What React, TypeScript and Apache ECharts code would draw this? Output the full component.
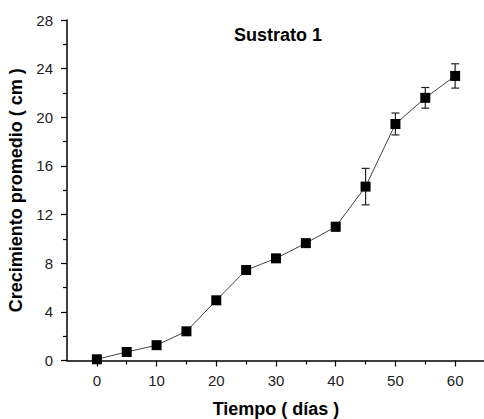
import React, { useEffect, useRef } from "react";
import * as echarts from "echarts";

const days = [0, 5, 10, 15, 20, 25, 30, 35, 40, 45, 50, 55, 60];
const growth = [0.1, 0.7, 1.26, 2.4, 4.95, 7.44, 8.4, 9.65, 11.0, 14.3, 19.45, 21.6, 23.4];
const errors = [0.1, 0.1, 0.1, 0.1, 0.15, 0.15, 0.15, 0.2, 0.35, 1.5, 0.9, 0.85, 1.0];
const xMajorTicks = [0, 10, 20, 30, 40, 50, 60];
const xMinorTicks = [5, 15, 25, 35, 45, 55];
const titleText = "Sustrato 1";
const xName = "Tiempo ( días )";
const yName = "Crecimiento promedio ( cm )";

const FONT = "'Liberation Sans', Arial, sans-serif";

export default function App() {
  const ref = useRef<HTMLDivElement>(null);
  useEffect(() => {
    if (!ref.current) return;
    const chart = echarts.init(ref.current, undefined, { renderer: "svg" });
    const points = days.map((d, i) => [d, growth[i]]);
    const errData = days.map((d, i) => [d, growth[i], errors[i]]);
    chart.setOption({
      animation: false,
      backgroundColor: "#fff",
      textStyle: { fontFamily: FONT },
      grid: { left: 67, right: -1, top: 20, bottom: 58.5, containLabel: false, outerBoundsMode: "none" },
      graphic: [
        {
          type: "text",
          x: 278,
          y: 34.5,
          style: {
            text: titleText,
            font: `bold 18px ${FONT}`,
            fill: "#000",
            textAlign: "center",
            textVerticalAlign: "middle",
          },
        },
      ],
      xAxis: [
        {
          type: "value",
          min: -5,
          max: 65,
          position: "bottom",
          name: xName,
          nameLocation: "middle",
          nameGap: 39,
          nameTextStyle: { fontFamily: FONT, fontSize: 18, fontWeight: "bold", color: "#000" },
          axisLine: { show: true, onZero: false, lineStyle: { color: "#000", width: 1.5 } },
          axisTick: { show: true, customValues: xMajorTicks, length: 6, lineStyle: { color: "#000", width: 1.2 } },
          axisLabel: { show: true, customValues: xMajorTicks, margin: 12, fontFamily: FONT, fontSize: 15, color: "#222" },
          splitLine: { show: false },
        },
        {
          type: "value",
          min: -5,
          max: 65,
          position: "bottom",
          axisLine: { show: false, onZero: false },
          axisTick: { show: true, customValues: xMinorTicks, length: 4, lineStyle: { color: "#000", width: 1.2 } },
          axisLabel: { show: false },
          splitLine: { show: false },
        },
      ],
      yAxis: {
        type: "value",
        min: 0,
        max: 28,
        interval: 4,
        name: yName,
        nameLocation: "middle",
        nameGap: 41,
        nameTextStyle: { fontFamily: FONT, fontSize: 18, fontWeight: "bold", color: "#000" },
        axisLine: { show: true, onZero: false, lineStyle: { color: "#000", width: 1.5 } },
        axisTick: { show: true, length: 6, lineStyle: { color: "#000", width: 1.2 } },
        minorTick: { show: true, splitNumber: 2, length: 4, lineStyle: { color: "#000", width: 1.2 } },
        axisLabel: { margin: 14, fontFamily: FONT, fontSize: 15, color: "#222" },
        splitLine: { show: false },
      },
      series: [
        {
          type: "custom",
          z: 1,
          data: errData,
          renderItem: (params: any, api: any) => {
            const x = api.value(0);
            const y = api.value(1);
            const e = api.value(2);
            const top = api.coord([x, y + e]);
            const bot = api.coord([x, y - e]);
            const hw = 4;
            const style = { stroke: "#222", lineWidth: 1.2 };
            return {
              type: "group",
              children: [
                { type: "line", shape: { x1: top[0], y1: top[1], x2: bot[0], y2: bot[1] }, style },
                { type: "line", shape: { x1: top[0] - hw, y1: top[1], x2: top[0] + hw, y2: top[1] }, style },
                { type: "line", shape: { x1: bot[0] - hw, y1: bot[1], x2: bot[0] + hw, y2: bot[1] }, style },
              ],
            };
          },
        },
        {
          type: "line",
          z: 2,
          data: points,
          symbol: "rect",
          symbolSize: 10,
          showSymbol: true,
          itemStyle: { color: "#000" },
          lineStyle: { color: "#444", width: 1 },
          clip: false,
        },
      ],
    });
    return () => chart.dispose();
  }, []);
  return <div ref={ref} style={{ position: "fixed", left: 0, top: 0, width: 484, height: 419 }} />;
}
